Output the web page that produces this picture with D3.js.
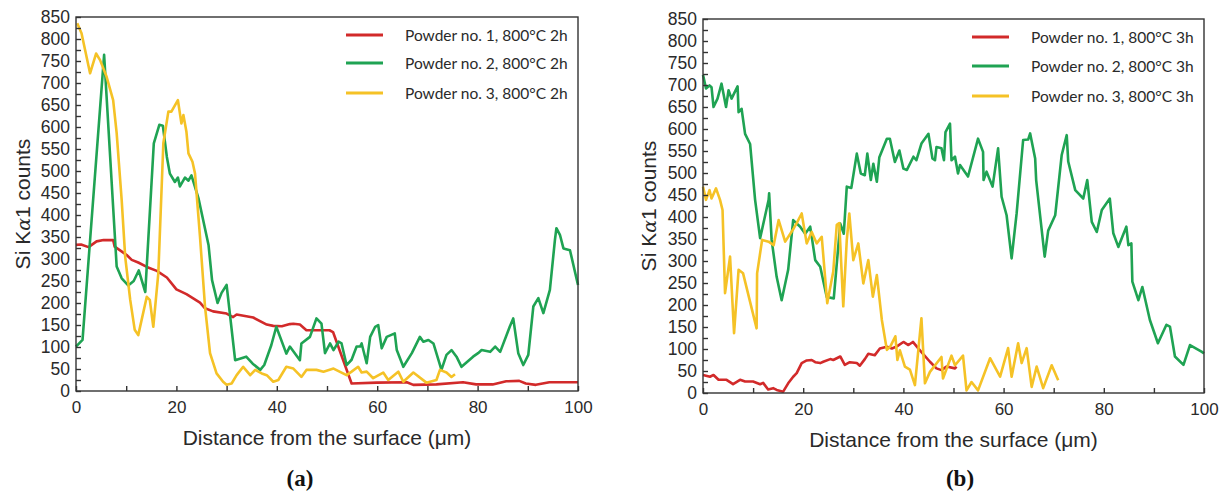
<!DOCTYPE html>
<html><head><meta charset="utf-8">
<script src="https://cdn.jsdelivr.net/npm/d3@7"></script>
<style>body{margin:0;background:#fff}svg{display:block}</style>
</head><body>
<svg id="chart" width="1223" height="495"></svg>
<script>
// ---------- data ----------
const xTickLabels = [0, 20, 40, 60, 80, 100];
const xMinorTicks = [0,10,20,30,40,50,60,70,80,90,100];
const yTickLabels = [0,50,100,150,200,250,300,350,400,450,500,550,600,650,700,750,800,850];
const yMinorTicks = d3.range(0, 851, 25);

const legendA = ["Powder no. 1, 800°C 2h", "Powder no. 2, 800°C 2h", "Powder no. 3, 800°C 2h"];
const legendB = ["Powder no. 1, 800°C 3h", "Powder no. 2, 800°C 3h", "Powder no. 3, 800°C 3h"];

// Panel (a): 800°C 2h
const a_powder1 = [[0,332],[1,333],[2.5,327],[4.1,340],[5.5,343],[7.4,343],[7.7,328],[9,318],[10.1,309],[11.1,298],[12.4,292],[14.1,282],[16.1,273],[18.1,258],[20,231],[22,220],[24.7,201],[25.7,188],[27.3,181],[30,176],[31.3,168],[32,174],[35.3,167],[38,151],[39.3,148],[41,147],[42.6,152],[43.3,153],[44.6,151],[45.9,138],[48.6,138],[50.5,138],[51.2,134],[54.9,17],[59.9,19],[65.9,20],[67.2,14],[71.8,15],[77.1,20],[79.7,15],[83,15],[85.7,22],[88.3,23],[89.6,17],[91.6,14],[94.3,20],[99.2,20],[100,20]];
const a_powder2 = [[0,101],[1.3,116],[5.6,764],[8.1,283],[9.1,256],[10.4,240],[11.5,250],[12.5,274],[13.8,225],[15.5,563],[16.6,605],[17.3,603],[18.1,532],[18.7,494],[19.7,475],[20.3,485],[20.7,465],[21.7,485],[22.4,478],[23.0,490],[24.4,438],[26.4,332],[27.1,252],[28.2,200],[29,223],[30,241],[31.7,70],[33.9,78],[35.2,62],[36.7,48],[37.5,59],[38.9,104],[39.9,146],[41.9,85],[42.6,101],[44.6,70],[44.9,108],[46.6,123],[47.9,165],[48.9,153],[49.6,86],[50.6,108],[51.3,93],[52.3,112],[52.9,108],[53.9,59],[54.9,71],[55.9,101],[56.6,101],[56.9,108],[57.9,63],[58.6,123],[59.6,146],[60.2,150],[60.9,97],[61.9,123],[63.5,131],[63.9,93],[65.2,55],[66.9,86],[68.5,123],[69.2,112],[70.2,116],[71.2,108],[72.8,48],[73.8,82],[74.8,93],[75.8,78],[76.8,55],[79.1,78],[80.1,86],[80.8,93],[82.5,89],[83.5,101],[84.5,89],[86.4,146],[87.1,165],[88.1,86],[89.1,59],[90.1,82],[91.1,192],[92.1,211],[93.1,177],[94.4,230],[95.4,343],[95.7,370],[96.4,355],[97.1,324],[98.4,320],[100,241]];
const a_powder3 = [[0.25,836],[1.1,813],[2.8,722],[4,767],[4.8,752],[6.1,714],[7.4,661],[8.1,586],[9.1,434],[9.8,305],[10.8,207],[11.7,139],[12.4,127],[14.1,214],[14.7,207],[15.4,146],[16.4,268],[17.4,563],[18.4,635],[19,635],[20.3,661],[21,608],[21.4,627],[22,589],[22.4,540],[23.2,521],[23.7,495],[24.7,351],[25.7,192],[26.7,86],[28,40],[29.3,21],[30,14],[31,17],[32,36],[33.3,55],[34.7,36],[35.7,48],[37,40],[38,36],[39.3,21],[40.3,25],[41.9,55],[43.3,51],[44.9,32],[45.9,48],[47.9,48],[49.3,44],[51.3,51],[53.9,36],[54.9,44],[56.2,55],[56.9,42],[57.9,44],[59.2,29],[61.2,42],[62.2,25],[64.2,44],[65.2,21],[67.2,42],[69.8,19],[71.8,25],[72.5,48],[73.8,42],[74.8,32],[75.5,38]];

// Panel (b): 800°C 3h
const b_powder1 = [[0,41],[1.4,37],[2.1,41],[3.1,30],[4.7,30],[6,20],[7.4,30],[8.4,26],[10,26],[11.4,20],[12,23],[13,8],[14,11],[14.7,7],[16,3],[17,22],[18,37],[18.7,45],[19.7,68],[20.7,74],[21.7,75],[22.4,70],[23.4,68],[24,71],[25.4,77],[26,75],[27.4,83],[28.3,64],[29.3,70],[30.7,68],[31.3,62],[32.3,77],[33,89],[34.3,86],[35.3,101],[36.7,105],[37.7,101],[38.7,106],[40,116],[41,109],[41.9,116],[43.3,97],[45.3,71],[46.6,56],[47.6,52],[48.6,60],[50.3,56],[50.6,60]];
const b_powder2 = [[0,723],[0.6,692],[1.3,699],[1.7,695],[2.1,650],[2.9,669],[3.7,703],[4.6,650],[5.1,688],[5.7,669],[6.9,697],[7.1,638],[7.7,646],[8.4,589],[9.4,566],[10.4,439],[11.4,352],[13.1,439],[13.2,454],[13.7,348],[14.7,264],[15.7,211],[17,280],[18,393],[19.4,378],[20.4,362],[21.4,378],[22.4,302],[23.4,287],[24.7,218],[26.1,215],[27.4,385],[28.1,362],[28.7,469],[29.6,466],[30.7,544],[31.5,499],[32.3,495],[32.8,544],[33.5,484],[34,521],[34.7,480],[35.2,536],[36.7,578],[37.3,578],[38.3,525],[39.2,551],[40,510],[40.7,507],[42,537],[42.6,529],[43.6,567],[45,589],[45.8,533],[46.3,529],[46.6,559],[47.6,556],[48.1,529],[48.4,593],[49.3,612],[49.6,529],[50.3,537],[50.9,499],[51.3,518],[52.9,492],[54.9,578],[55.9,548],[56.0,484],[56.6,503],[57.8,469],[58.9,556],[59.6,446],[60.6,404],[61.6,306],[62.6,408],[63.9,575],[64.9,576],[65.3,590],[66.3,533],[66.5,484],[68.2,310],[68.9,369],[70.3,404],[71.6,541],[72.6,586],[72.9,526],[74.3,461],[75.9,442],[76.7,484],[77.6,389],[78.6,366],[79.6,416],[81.2,442],[81.9,363],[82.9,332],[83.7,355],[84.5,378],[84.9,336],[85.5,340],[85.7,253],[86.9,211],[87.7,241],[89.2,166],[90.8,113],[92.5,155],[93.2,151],[94.2,83],[95.9,64],[97.2,109],[99.5,94],[100,90]];
const b_powder3 = [[0,469],[0.6,439],[1.3,461],[1.7,442],[2.6,465],[3.4,439],[3.9,416],[4.4,227],[5.4,310],[6.2,136],[7.1,280],[8,272],[10.7,147],[10.8,272],[11.8,348],[13.1,344],[14.1,336],[15.1,393],[16.4,344],[18.1,374],[18.7,386],[19.7,408],[20.7,340],[21.7,366],[22.7,340],[23.7,355],[24.8,204],[26,276],[26.7,382],[27.2,386],[28,197],[28.7,348],[29.2,408],[30,302],[31,340],[32,249],[33,302],[33.9,219],[34.7,268],[35.7,166],[36.7,98],[37.4,106],[38.4,129],[38.8,75],[39.3,97],[40.3,60],[41.3,53],[42.3,18],[43.6,170],[44.3,22],[45.3,48],[47.6,82],[47.9,33],[49.6,85],[50.3,63],[51.9,85],[52.6,6],[53.6,25],[54.9,6],[57.3,79],[59.3,37],[60.9,102],[61.6,37],[62.9,113],[63.6,68],[64.6,102],[65.6,14],[66.6,60],[67.9,11],[69.6,63],[70.9,29]];

const colors = ["#d22a2a", "#1fa353", "#f5c226"];

// ---------- drawing ----------
const svg = d3.select("#chart");
const axisColor = "#333";
const sans = "'Liberation Sans', Arial, sans-serif";

function drawPanel(cfg) {
  const x = d3.scaleLinear().domain([0, 100]).range([cfg.left, cfg.right]);
  const y = d3.scaleLinear().domain([0, 850]).range([cfg.bottom, cfg.top]);
  const g = svg.append("g");

  // lines
  const line = d3.line().x(d => x(d[0])).y(d => y(d[1]));
  cfg.series.forEach((s, i) => {
    g.append("path").datum(s).attr("d", line)
      .attr("fill", "none").attr("stroke", colors[i])
      .attr("stroke-width", 2.6).attr("stroke-linejoin", "round");
  });

  // frame
  g.append("rect").attr("x", cfg.left).attr("y", cfg.top)
    .attr("width", cfg.right - cfg.left).attr("height", cfg.bottom - cfg.top)
    .attr("fill", "none").attr("stroke", axisColor).attr("stroke-width", 1.4);

  // minor ticks (inward, no labels)
  const yMinor = g.append("g").attr("transform", `translate(${cfg.left},0)`)
    .call(d3.axisLeft(y).tickValues(yMinorTicks).tickSize(-5).tickFormat(""));
  const xMinor = g.append("g").attr("transform", `translate(0,${cfg.bottom})`)
    .call(d3.axisBottom(x).tickValues(xMinorTicks).tickSize(-5).tickFormat(""));
  [yMinor, xMinor].forEach(a => {
    a.select(".domain").remove();
    a.selectAll("line").attr("stroke", axisColor).attr("stroke-width", 1.4);
  });

  // labels
  const yLab = g.append("g").attr("transform", `translate(${cfg.left},0)`)
    .call(d3.axisLeft(y).tickValues(yTickLabels).tickSize(0).tickPadding(6).tickFormat(d3.format("d")));
  const xLab = g.append("g").attr("transform", `translate(0,${cfg.bottom})`)
    .call(d3.axisBottom(x).tickValues(xTickLabels).tickSize(0).tickPadding(10).tickFormat(d3.format("d")));
  yLab.selectAll("text").attr("font-size", 17.5);
  xLab.selectAll("text").attr("font-size", 17);
  [yLab, xLab].forEach(a => {
    a.select(".domain").remove();
    a.selectAll("text").attr("fill", "#2a2a2a").attr("font-family", sans);
  });

  // axis titles
  g.append("text").attr("x", (cfg.left + cfg.right) / 2).attr("y", cfg.bottom + 54)
    .attr("text-anchor", "middle").attr("font-family", sans).attr("font-size", 21)
    .attr("fill", "#2a2a2a").text("Distance from the surface (μm)");
  const yt = g.append("text")
    .attr("transform", `translate(${cfg.ytitleX},${(cfg.top + cfg.bottom) / 2}) rotate(-90)`)
    .attr("text-anchor", "middle").attr("font-family", sans).attr("font-size", 21)
    .attr("fill", "#2a2a2a");
  yt.append("tspan").text("Si K");
  yt.append("tspan").attr("font-family", "'DejaVu Serif', serif").attr("font-style", "italic").attr("font-size", 19).text("α");
  yt.append("tspan").text("1 counts");

  // legend
  cfg.legend.forEach((t, i) => {
    const ly = cfg.legendY[i];
    g.append("line").attr("x1", cfg.legendX).attr("x2", cfg.legendX + 37)
      .attr("y1", ly).attr("y2", ly).attr("stroke", colors[i]).attr("stroke-width", 3);
    g.append("text").attr("x", cfg.legendX + 59).attr("y", ly + 5.5)
      .attr("font-family", "Lato, 'Open Sans', sans-serif").attr("font-size", 15.5)
      .attr("fill", "#2a2a2a").text(t);
  });

  // panel label
  g.append("text").attr("x", cfg.labelX).attr("y", 486).attr("text-anchor", "middle")
    .attr("font-family", "'Liberation Serif', 'Times New Roman', serif").attr("font-weight", "bold")
    .attr("font-size", 23).attr("fill", "#111").text(cfg.label);
}

drawPanel({left: 76, right: 578, top: 17, bottom: 391, ytitleX: 30,
  series: [a_powder1, a_powder2, a_powder3], legend: legendA,
  legendX: 346, legendY: [35, 63, 93], label: "(a)", labelX: 300});
drawPanel({left: 703, right: 1204, top: 19, bottom: 393, ytitleX: 656,
  series: [b_powder1, b_powder2, b_powder3], legend: legendB,
  legendX: 972, legendY: [37, 66, 96], label: "(b)", labelX: 960});
</script>
</body></html>
